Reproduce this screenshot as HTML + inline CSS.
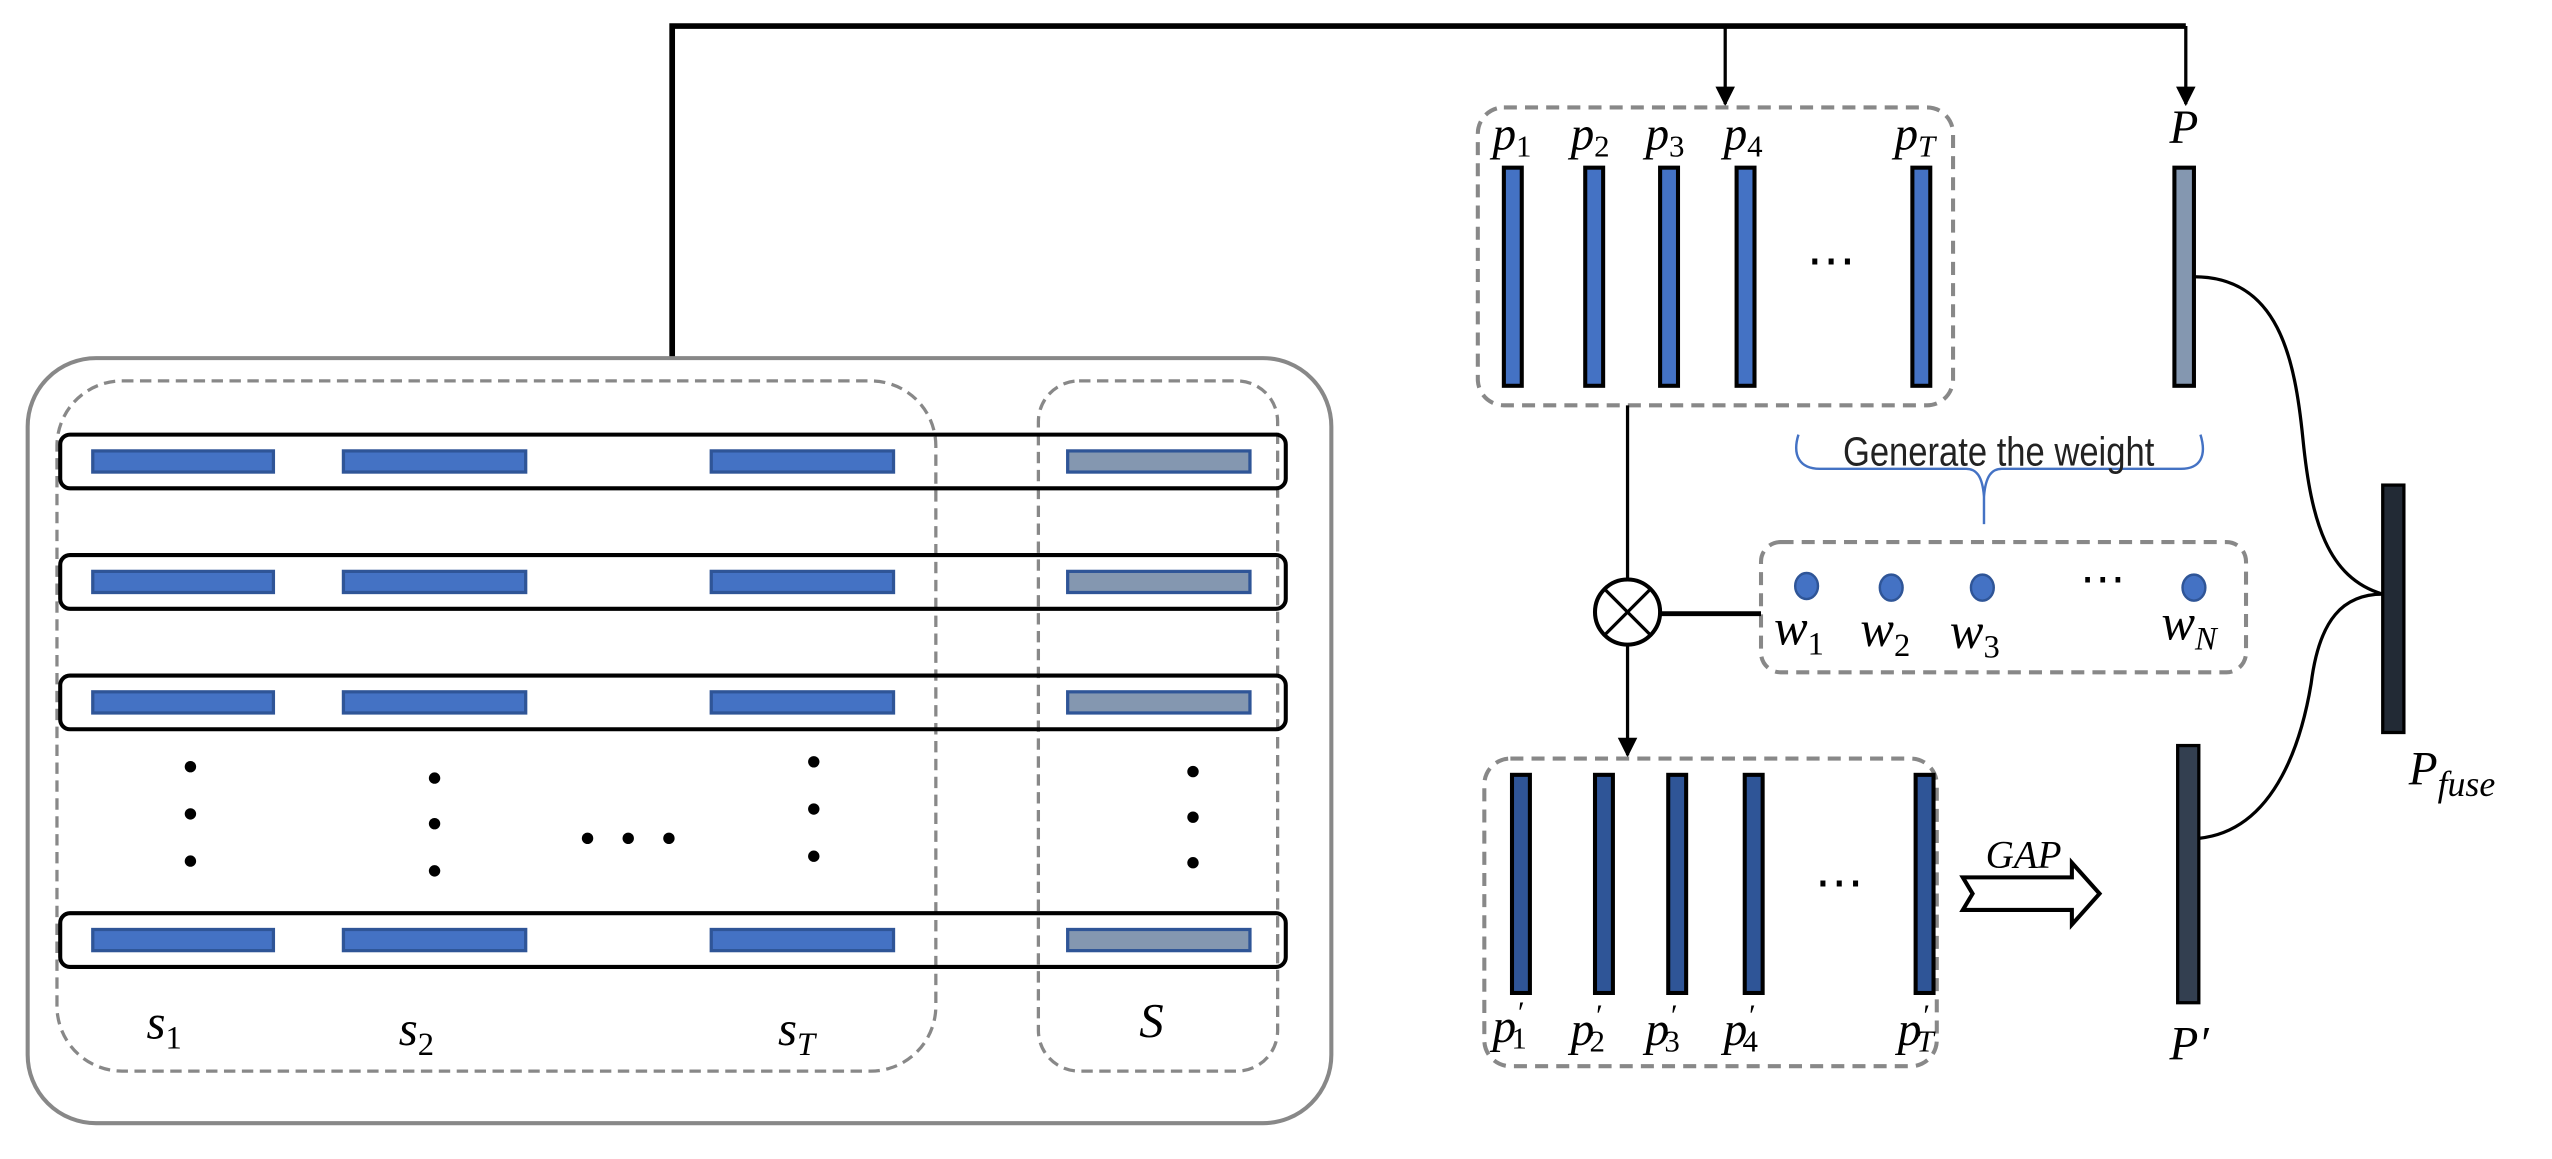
<!DOCTYPE html>
<html><head><meta charset="utf-8"><style>html,body{margin:0;padding:0;background:#fff;width:2552px;height:1159px;overflow:hidden}</style></head>
<body>
<svg width="2552" height="1159" viewBox="0 0 1568 712" preserveAspectRatio="none" xmlns="http://www.w3.org/2000/svg" font-family="Liberation Serif, serif">
<defs><marker id="ah" viewBox="0 0 10 10" refX="9" refY="5" markerWidth="6" markerHeight="7" orient="auto" markerUnits="strokeWidth"><path d="M0,0L10,5L0,10z" fill="#000"/></marker></defs>
<!-- top connector -->
<path d="M413,220V16H1343" fill="none" stroke="#000" stroke-width="3.5"/>
<path d="M1060,16V64" stroke="#000" stroke-width="2" marker-end="url(#ah)"/>
<path d="M1343,16V64" stroke="#000" stroke-width="2" marker-end="url(#ah)"/>
<!-- left outer -->
<rect x="17" y="220" width="801" height="470" rx="42" fill="none" stroke="#888" stroke-width="2.5"/>
<rect x="35" y="234" width="540" height="424" rx="40" fill="none" stroke="#888" stroke-width="2" stroke-dasharray="7,4"/>
<rect x="638" y="234" width="147" height="424" rx="25" fill="none" stroke="#888" stroke-width="2" stroke-dasharray="7,4"/>
<g stroke="#000" stroke-width="2.5" fill="none">
<rect x="37" y="267" width="753" height="33" rx="6"/>
<rect x="37" y="341" width="753" height="33" rx="6"/>
<rect x="37" y="415" width="753" height="33" rx="6"/>
<rect x="37" y="561" width="753" height="33" rx="6"/>
</g>
<g fill="#4472c4" stroke="#2f5597" stroke-width="2">
<rect x="57" y="277" width="111" height="13"/><rect x="211" y="277" width="112" height="13"/><rect x="437" y="277" width="112" height="13"/>
<rect x="57" y="351" width="111" height="13"/><rect x="211" y="351" width="112" height="13"/><rect x="437" y="351" width="112" height="13"/>
<rect x="57" y="425" width="111" height="13"/><rect x="211" y="425" width="112" height="13"/><rect x="437" y="425" width="112" height="13"/>
<rect x="57" y="571" width="111" height="13"/><rect x="211" y="571" width="112" height="13"/><rect x="437" y="571" width="112" height="13"/>
</g>
<g fill="#8497b0" stroke="#2f5597" stroke-width="2">
<rect x="656" y="277" width="112" height="13"/><rect x="656" y="351" width="112" height="13"/><rect x="656" y="425" width="112" height="13"/><rect x="656" y="571" width="112" height="13"/>
</g>
<g fill="#000">
<circle cx="117" cy="471" r="3.5"/><circle cx="117" cy="500" r="3.5"/><circle cx="117" cy="529" r="3.5"/>
<circle cx="267" cy="478" r="3.5"/><circle cx="267" cy="506" r="3.5"/><circle cx="267" cy="535" r="3.5"/>
<circle cx="500" cy="468" r="3.5"/><circle cx="500" cy="497" r="3.5"/><circle cx="500" cy="526" r="3.5"/>
<circle cx="733" cy="474" r="3.5"/><circle cx="733" cy="502" r="3.5"/><circle cx="733" cy="530" r="3.5"/>
<circle cx="361" cy="515" r="3.5"/><circle cx="386" cy="515" r="3.5"/><circle cx="411" cy="515" r="3.5"/>
</g>
<g font-style="italic" font-size="30" fill="#000">
<text x="90" y="638">s<tspan font-size="20" dy="6" font-style="normal">1</tspan></text>
<text x="245" y="642">s<tspan font-size="20" dy="6" font-style="normal">2</tspan></text>
<text x="478" y="642">s<tspan font-size="20" dy="6">T</tspan></text>
<text x="700" y="637">S</text>
</g>
<!-- p box -->
<rect x="908" y="66" width="292" height="183" rx="16" fill="none" stroke="#888" stroke-width="2.5" stroke-dasharray="8,5"/>
<g fill="#4472c4" stroke="#000" stroke-width="2.5">
<rect x="924" y="103" width="11" height="134"/><rect x="974" y="103" width="11" height="134"/><rect x="1020" y="103" width="11" height="134"/><rect x="1067" y="103" width="11" height="134"/><rect x="1175" y="103" width="11" height="134"/>
</g>
<g font-style="italic" font-size="29" fill="#000">
<text x="917" y="92">p<tspan font-size="19" dy="4" font-style="normal">1</tspan></text>
<text x="965" y="92">p<tspan font-size="19" dy="4" font-style="normal">2</tspan></text>
<text x="1011" y="92">p<tspan font-size="19" dy="4" font-style="normal">3</tspan></text>
<text x="1059" y="92">p<tspan font-size="19" dy="4" font-style="normal">4</tspan></text>
<text x="1164" y="92">p<tspan font-size="19" dy="4">T</tspan></text>
<text x="1333" y="88">P</text>
</g>
<text x="1110" y="170" font-size="30">⋯</text>
<rect x="1336" y="103" width="12" height="134" fill="#8497b0" stroke="#000" stroke-width="2.5"/>
<!-- brace -->
<path d="M1105,267C1101,280 1106,288 1118,288H1208C1214,288 1218,292 1219,305C1220,292 1224,288 1230,288H1340C1352,288 1356,280 1352,267" fill="none" stroke="#4472c4" stroke-width="1.5"/>
<line x1="1219" y1="305" x2="1219" y2="322" stroke="#4472c4" stroke-width="1.5"/>
<text x="1228" y="286" font-size="25" text-anchor="middle" font-family="Liberation Sans Narrow, Liberation Sans, sans-serif" fill="#222" transform="translate(1228,0) scale(0.85,1) translate(-1228,0)">Generate the weight</text>
<!-- w box -->
<rect x="1082" y="333" width="298" height="80" rx="12" fill="none" stroke="#888" stroke-width="2.5" stroke-dasharray="8,5"/>
<g fill="#4472c4" stroke="#2f5597" stroke-width="1.5">
<ellipse cx="1110" cy="360" rx="7" ry="8"/><ellipse cx="1162" cy="361" rx="7" ry="8"/><ellipse cx="1218" cy="361" rx="7" ry="8"/><ellipse cx="1348" cy="361" rx="7" ry="8"/>
</g>
<text x="1278" y="365" font-size="28">⋯</text>
<g font-style="italic" font-size="31" fill="#000">
<text x="1090" y="396">w<tspan font-size="20" dy="6" font-style="normal">1</tspan></text>
<text x="1143" y="397">w<tspan font-size="20" dy="6" font-style="normal">2</tspan></text>
<text x="1198" y="398">w<tspan font-size="20" dy="6" font-style="normal">3</tspan></text>
<text x="1328" y="393">w<tspan font-size="20" dy="6">N</tspan></text>
</g>
<!-- otimes -->
<line x1="1000" y1="249" x2="1000" y2="356" stroke="#000" stroke-width="2"/>
<circle cx="1000" cy="376" r="20" fill="#fff" stroke="#000" stroke-width="2.5"/>
<path d="M986,362L1014,390M1014,362L986,390" stroke="#000" stroke-width="2"/>
<line x1="1020" y1="377" x2="1082" y2="377" stroke="#000" stroke-width="3"/>
<path d="M1000,396V464" stroke="#000" stroke-width="2" marker-end="url(#ah)"/>
<!-- p' box -->
<rect x="912" y="466" width="278" height="189" rx="16" fill="none" stroke="#888" stroke-width="2.5" stroke-dasharray="8,5"/>
<g fill="#2f5597" stroke="#000" stroke-width="2.5">
<rect x="929" y="476" width="11" height="134"/><rect x="980" y="476" width="11" height="134"/><rect x="1025" y="476" width="11" height="134"/><rect x="1072" y="476" width="11" height="134"/><rect x="1177" y="476" width="11" height="134"/>
</g>
<text x="1115" y="552" font-size="30">⋯</text>
<g font-style="italic" font-size="29" fill="#000">
<text x="917" y="640">p<tspan font-size="19" dx="0" dy="-12">′</tspan><tspan font-size="19" dx="-7" dy="16" font-style="normal">1</tspan></text>
<text x="965" y="642">p<tspan font-size="19" dy="-12">′</tspan><tspan font-size="19" dx="-7" dy="16" font-style="normal">2</tspan></text>
<text x="1011" y="642">p<tspan font-size="19" dy="-12">′</tspan><tspan font-size="19" dx="-7" dy="16" font-style="normal">3</tspan></text>
<text x="1059" y="642">p<tspan font-size="19" dy="-12">′</tspan><tspan font-size="19" dx="-7" dy="16" font-style="normal">4</tspan></text>
<text x="1166" y="642">p<tspan font-size="19" dy="-12">′</tspan><tspan font-size="19" dx="-7" dy="16">T</tspan></text>
<text x="1333" y="651">P′</text>
<text x="1480" y="482">P<tspan font-size="22" dy="7">fuse</tspan></text>
<text x="1220" y="533" font-size="24">GAP</text>
</g>
<!-- GAP arrow -->
<path d="M1206,539H1273V530L1290,549L1273,568V559H1206L1212,549Z" fill="#fff" stroke="#000" stroke-width="2.5" stroke-linejoin="miter"/>
<!-- P' and Pfuse -->
<rect x="1338" y="458" width="13" height="158" fill="#333f50" stroke="#000" stroke-width="2"/>
<rect x="1464" y="298" width="13" height="152" fill="#222a35" stroke="#000" stroke-width="2"/>
<path d="M1348,170C1400,170 1410,220 1415,270C1420,320 1430,355 1464,365" fill="none" stroke="#000" stroke-width="2"/>
<path d="M1351,515C1400,510 1415,450 1420,420C1425,380 1440,365 1464,365" fill="none" stroke="#000" stroke-width="2"/>
</svg>
</body></html>
